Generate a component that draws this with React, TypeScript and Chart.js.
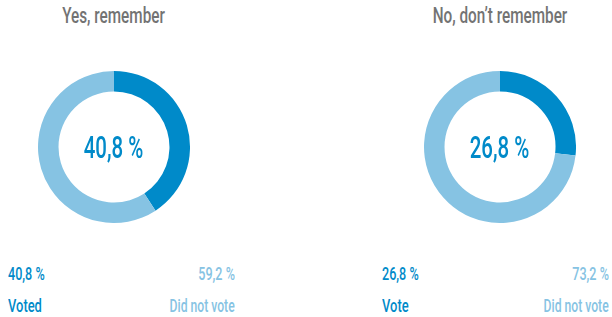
import React, { useEffect, useRef } from "react";
import { Chart, registerables } from "chart.js";

Chart.register(...registerables);

const groupTitles = ["Yes, remember", "No, don’t remember"];
const votedShare = [40.8, 26.8];
const notVotedShare = [59.2, 73.2];
const votedLabels = ["Voted", "Vote"];
const notVotedLabels = ["Did not vote", "Did not vote"];

const DARK = "#008AC9";
const LIGHT = "#86C3E3";
const GRAY = "#737373";
const FONT = "Roboto, 'Noto Sans', sans-serif";

const fmt = (v: number) => v.toFixed(1).replace(".", ",") + " %";

const panels = [
  { cx: 114, legL: 8, legR: 235 },
  { cx: 500, legL: 382, legR: 609 },
];
const CY = 147;
const R = 76;

function Donut({ idx }: { idx: number }) {
  const ref = useRef<HTMLCanvasElement | null>(null);
  useEffect(() => {
    if (!ref.current) return;
    const chart = new Chart(ref.current, {
      type: "doughnut",
      data: {
        labels: [votedLabels[idx], notVotedLabels[idx]],
        datasets: [
          {
            data: [votedShare[idx], notVotedShare[idx]],
            backgroundColor: [DARK, LIGHT],
            borderWidth: 0,
          },
        ],
      },
      options: {
        responsive: false,
        animation: false,
        cutout: "73%",
        plugins: { legend: { display: false }, tooltip: { enabled: false } },
        layout: { padding: 0 },
      },
    });
    return () => chart.destroy();
  }, [idx]);
  const p = panels[idx];
  return (
    <canvas
      ref={ref}
      width={R * 2}
      height={R * 2}
      style={{ position: "absolute", left: p.cx - R, top: CY - R, width: R * 2, height: R * 2 }}
    />
  );
}

type Align = "left" | "center" | "right";

function Label({
  text, x, top, size, color, align, weight = 400, squeeze = 0.72,
}: {
  text: string; x: number; top: number; size: number; color: string; align: Align; weight?: number; squeeze?: number;
}) {
  const W = 400;
  const left = align === "left" ? x : align === "center" ? x - W / 2 : x - W;
  return (
    <div
      style={{
        position: "absolute",
        left,
        top,
        width: W,
        textAlign: align,
        fontFamily: FONT,
        fontSize: size,
        lineHeight: 1,
        color,
        fontWeight: weight,
        whiteSpace: "nowrap",
      }}
    >
      <span style={{ display: "inline-block", transform: `scaleX(${squeeze})`, transformOrigin: align }}>{text}</span>
    </div>
  );
}

export default function App() {
  useEffect(() => {
    document.body.style.margin = "0";
  }, []);
  return (
    <div style={{ position: "relative", width: 612, height: 317, background: "#fff", overflow: "hidden" }}>
      {panels.map((p, i) => (
        <React.Fragment key={i}>
          <Label text={groupTitles[i]} x={p.cx - 0.5} top={4} size={22.5} color={GRAY} align="center" weight={500} squeeze={0.68} />
          <Donut idx={i} />
          <Label text={fmt(votedShare[i])} x={p.cx - 1} top={133} size={30.5} color={DARK} align="center" weight={500} squeeze={0.67} />
          <Label text={fmt(votedShare[i])} x={p.legL} top={265} size={18.5} color={DARK} align="left" weight={500} squeeze={0.68} />
          <Label text={votedLabels[i]} x={p.legL} top={296} size={19} color={DARK} align="left" weight={500} squeeze={0.68} />
          <Label text={fmt(notVotedShare[i])} x={p.legR} top={265} size={18.5} color={LIGHT} align="right" weight={500} squeeze={0.68} />
          <Label text={notVotedLabels[i]} x={p.legR} top={296} size={19} color={LIGHT} align="right" weight={500} squeeze={0.64} />
        </React.Fragment>
      ))}
    </div>
  );
}
